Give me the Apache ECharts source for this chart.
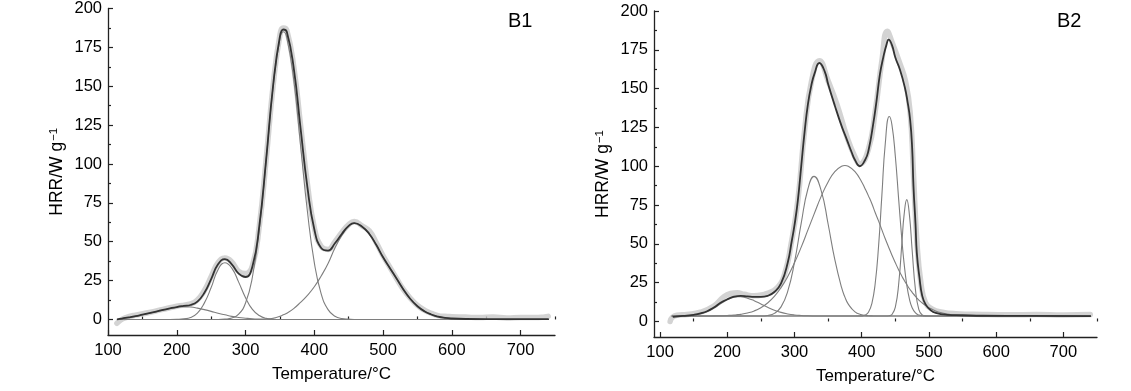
<!DOCTYPE html>
<html>
<head>
<meta charset="utf-8">
<script src="https://cdn.jsdelivr.net/npm/echarts@6/dist/echarts.min.js"></script>
<style>
html,body{margin:0;padding:0;background:#fff;}
#c{width:1131px;height:391px;}
</style>
</head>
<body>
<div id="c"></div>
<script>
// ---------- B1 data ----------
const b1CompT = [114,120,130,140,150,160,170,180,190,200,210,220,230,240,250,260,270,280,290,300,310,320,330,340,350,355,360,370,380,390,400,410,420,430,440,450,458,470,480,490,500,510,520,530,540,550,560,570,580,590,600,620,650,700,740];
const b1C1 = [0.2,0.5,1.2,2,3,4,5,6,7,7.8,8.2,8,7.3,6.3,5.2,4,3,2,1.3,0.8,0.4,0.2,0.1,0,0,0,0,0,0,0,0,0,0,0,0,0,0,0,0,0,0,0,0,0,0,0,0,0,0,0,0,0,0,0,0];
const b1C2 = [0,0,0,0,0,0,0,0,0,0.1,0.4,1.2,4,10.5,20.5,32,36.5,33,24,14,6.5,2.5,0.7,0.2,0,0,0,0,0,0,0,0,0,0,0,0,0,0,0,0,0,0,0,0,0,0,0,0,0,0,0,0,0,0,0];
const b1C3 = [0,0,0,0,0,0,0,0,0,0,0,0,0,0,0,0,0.2,0.9,3.4,10.6,27.3,58.1,102.5,149.5,180.7,185,181.3,154.5,112,69.4,36.6,16.5,6.3,2.1,0.6,0.2,0,0,0,0,0,0,0,0,0,0,0,0,0,0,0,0,0,0,0];
const b1C4 = [0,0,0,0,0,0,0,0,0,0,0,0,0,0,0,0,0,0,0,0,0,0,0.2,0.8,2,3,4,7,11,15.5,21,28,36,46,54,60,62,59.5,55,48,40,33,26,19,13,8.5,5.3,3.2,1.8,1,0.5,0.1,0,0,0];
const b1Total = [0.1,0.6,1.3,2.1,3.1,4.1,5.1,6.1,7.1,8,8.7,9.3,11.5,17,26,35.5,38.8,35.5,29.5,27.3,34,60,103,150,182,186.5,185,162,123,85,58,46,44.3,49,55,60.2,62,59.5,55,48,40,33,26,19,13,8.5,5.3,3.2,1.8,1,0.6,0.3,0.2,0.2,0.2];
const b1BandT = [113,118,125,140,160,180,200,220,230,240,250,260,270,280,290,300,310,320,330,340,350,355,360,370,380,390,400,410,420,430,440,450,458,470,480,490,500,510,520,530,540,550,560,570,580,590,600,620,640,660,680,700,720,735,740];
const b1Band = [-2.5,-0.5,1,2.8,4.5,6.5,8.5,10,12.5,18.5,27.5,36.5,39.5,37,31,29.5,34.5,60,103,150,183,187.5,186,163,125,87,59,47,45,50,56,61,63,60,57,49.5,41,33.5,26,19,13.5,9,6,4,2.5,2,1.8,1.5,1.2,1.5,1,1.3,1.2,1.6,2];

// ---------- B2 data ----------
const b2CompT = [118,130,140,150,160,170,180,190,200,210,216,220,230,240,250,260,270,280,290,300,310,320,329,340,350,360,370,375,380,390,400,405,410,415,420,425,430,435,441,445,450,455,460,463,467,471,475,480,485,490,495,500,510,520,530,540,550,570,600,650,740];
const b2Ca = [3.5,3.6,3.75,4.1,4.95,6.4,8.6,11.4,14,15.7,16,15.9,15,13.4,11.3,9.2,7.3,5.85,4.85,4.2,3.85,3.65,3.55,3.5,3.5,3.5,3.5,3.5,3.5,3.5,3.5,3.5,3.5,3.5,3.5,3.5,3.5,3.5,3.5,3.5,3.5,3.5,3.5,3.5,3.5,3.5,3.5,3.5,3.5,3.5,3.5,3.5,3.5,3.5,3.5,3.5,3.5,3.5,3.5,3.5,3.5];
const b2Cb = [3.5,3.5,3.5,3.5,3.5,3.5,3.5,3.5,3.5,3.5,3.5,3.5,3.5,3.5,3.5,3.9,5.2,9.4,19.5,38.2,63.3,85.5,93.5,83.8,62.8,39.8,21.9,15.7,11.2,6.2,4.3,3.9,3.7,3.6,3.5,3.5,3.5,3.5,3.5,3.5,3.5,3.5,3.5,3.5,3.5,3.5,3.5,3.5,3.5,3.5,3.5,3.5,3.5,3.5,3.5,3.5,3.5,3.5,3.5,3.5,3.5];
const b2Cc = [3.5,3.5,3.5,3.5,3.5,3.55,3.6,3.7,3.85,4.1,4.4,4.6,5.5,6.8,8.9,11.9,16.1,21.8,29,37.8,47.9,59,69,80.9,89.9,96.5,100,100.5,100,96.5,89.9,85.5,80.9,76,70.2,64.8,59,53.3,46.9,42.7,37.8,33.2,29,26.7,23.8,21.1,18.8,16.1,13.8,11.9,10.3,8.9,6.8,5.5,4.6,4.1,3.85,3.6,3.5,3.5,3.5];
const b2Cd = [3.5,3.5,3.5,3.5,3.5,3.5,3.5,3.5,3.5,3.5,3.5,3.5,3.5,3.5,3.5,3.5,3.5,3.5,3.5,3.5,3.5,3.5,3.5,3.5,3.5,3.5,3.5,3.5,3.5,3.5,3.6,4.1,5.9,11.4,24.3,48.1,81.4,114.3,132,126.5,106.4,78.5,51.3,37.6,23.6,14.4,8.9,5.5,4.1,3.7,3.55,3.5,3.5,3.5,3.5,3.5,3.5,3.5,3.5,3.5,3.5];
const b2Ce = [3.5,3.5,3.5,3.5,3.5,3.5,3.5,3.5,3.5,3.5,3.5,3.5,3.5,3.5,3.5,3.5,3.5,3.5,3.5,3.5,3.5,3.5,3.5,3.5,3.5,3.5,3.5,3.5,3.5,3.5,3.5,3.5,3.5,3.5,3.5,3.5,3.5,3.5,3.7,4.5,9.2,24.3,52,68.5,78.5,68.5,46,20.2,7.7,4.2,3.6,3.5,3.5,3.5,3.5,3.5,3.5,3.5,3.5,3.5,3.5];
const b2TotalT = [120,130,140,150,160,170,180,190,200,210,220,230,240,250,260,270,280,290,296,300,305,310,315,320,325,330,337,345,350,360,370,378,385,390,397,405,410,417,422,427,432,437,440,445,450,457,464,468,472,475,477,480,482,486,490,495,502,510,527,550,580,650,740];
const b2Total = [3,3.4,3.8,4.3,5.2,6.6,9,12,14.3,16,16.5,16.2,15.9,15.8,16.5,19,24.5,38,52,62,78,100,122,140,152,160,166.5,161,153,139,126,117,109,104,100,104,110,127,142,159,170,178.5,181.5,178,170,162,151,142,130,112,87,63,44,28,16.5,11,7.5,5.5,4.3,4,3.7,3.6,3.5];
const b2BandT = [115,118,125,140,160,180,195,205,215,225,240,255,265,275,285,295,305,315,325,337,350,363,378,390,397,410,420,430,438,445,457,465,472,477,482,488,495,505,520,540,580,620,660,700,740];
const b2Band = [0,2.5,4,4.5,6,10,16,18,18.5,17.5,16.5,17.5,19,22,30,50,78,123,154,168,155,140,119,106,101.5,111,135,168,187,180,166,155,135,95,52,25,12,8,6,5,4.5,4.3,4.5,4.2,4.5];

// tick labels
const xTicks = [100,200,300,400,500,600,700];
const xMinor = [150,250,350,450,550,650,750];
const yTicks = [0,25,50,75,100,125,150,175,200];
const yMinor = [12.5,37.5,62.5,87.5,112.5,137.5,162.5,187.5];

const zip = (xs, ys) => xs.map((x, i) => [x, ys[i]]);

const FONT = 'Liberation Sans, Arial, Helvetica, sans-serif';
const axisColor = '#222';

function xAxes(grid, min) {
  return [{
    gridIndex: grid, type: 'value', min: min, max: 750,
    name: 'Temperature/°C', nameLocation: 'middle', nameGap: 31,
    nameTextStyle: {fontSize: 17, color: '#000', fontFamily: FONT},
    axisLine: {show: true, onZero: false, lineStyle: {color: axisColor, width: 1.3}},
    axisTick: {show: true, inside: true, length: 5, customValues: xTicks, lineStyle: {color: axisColor, width: 1.2}},
    axisLabel: {show: true, customValues: xTicks, fontSize: 16.5, color: '#000', fontFamily: FONT, margin: 7},
    splitLine: {show: false}
  }, {
    gridIndex: grid, type: 'value', min: min, max: 750, position: 'bottom',
    axisLine: {show: false},
    axisTick: {show: true, inside: true, length: 3, customValues: xMinor, lineStyle: {color: axisColor, width: 1.2}},
    axisLabel: {show: false},
    splitLine: {show: false}
  }];
}
function yAxes(grid) {
  return [{
    gridIndex: grid, type: 'value', min: -10, max: 200,
    name: 'HRR/W g{s|−1}', nameLocation: 'middle', nameGap: 42, nameRotate: 90,
    nameTextStyle: {fontSize: 17.5, color: '#000', fontFamily: FONT,
      rich: {s: {fontSize: 11.5, color: '#000', fontFamily: FONT, verticalAlign: 'top', padding: [0,0,0,1]}}},
    axisLine: {show: true, onZero: false, lineStyle: {color: axisColor, width: 1.3}},
    axisTick: {show: true, inside: true, length: 5, customValues: yTicks, lineStyle: {color: axisColor, width: 1.2}},
    axisLabel: {show: true, customValues: yTicks, fontSize: 16.5, color: '#000', fontFamily: FONT, margin: 6},
    splitLine: {show: false}
  }, {
    gridIndex: grid, type: 'value', min: -10, max: 200, position: 'left',
    axisLine: {show: false},
    axisTick: {show: true, inside: true, length: 3, customValues: yMinor, lineStyle: {color: axisColor, width: 1.2}},
    axisLabel: {show: false},
    splitLine: {show: false}
  }];
}

function line(xi, yi, data, color, width, z) {
  return {type: 'line', xAxisIndex: xi, yAxisIndex: yi, data: data, showSymbol: false,
    smooth: 0.5, silent: true, animation: false, z: z,
    lineStyle: {color: color, width: width, cap: 'round', join: 'round'}};
}

const bandColor = 'rgba(200,200,200,0.8)';
const compColor = '#7e7e7e';
const totColor = '#333';

const series = [
  line(0, 0, zip(b1BandT, b1Band), bandColor, 5.5, 1),
  line(0, 0, zip(b1CompT, b1C1), compColor, 1.1, 2),
  line(0, 0, zip(b1CompT, b1C2), compColor, 1.1, 2),
  line(0, 0, zip(b1CompT, b1C3), compColor, 1.1, 2),
  line(0, 0, zip(b1CompT, b1C4), compColor, 1.1, 2),
  line(0, 0, zip(b1CompT, b1Total), totColor, 1.8, 3),
  line(2, 2, zip(b2BandT, b2Band), bandColor, 5.5, 1),
  line(2, 2, zip(b2CompT, b2Ca), compColor, 1.1, 2),
  line(2, 2, zip(b2CompT, b2Cb), compColor, 1.1, 2),
  line(2, 2, zip(b2CompT, b2Cc), compColor, 1.1, 2),
  line(2, 2, zip(b2CompT, b2Cd), compColor, 1.1, 2),
  line(2, 2, zip(b2CompT, b2Ce), compColor, 1.1, 2),
  line(2, 2, zip(b2TotalT, b2Total), totColor, 1.8, 3)
];

const chart = echarts.init(document.getElementById('c'), null, {renderer: 'canvas'});
chart.setOption({
  backgroundColor: '#fff',
  animation: false,
  grid: [
    {left: 108, top: 7, width: 447, height: 328, containLabel: false},
    {left: 654, top: 11, width: 443, height: 326, containLabel: false}
  ],
  xAxis: [...xAxes(0, 100), ...xAxes(1, 91)],
  yAxis: [...yAxes(0), ...yAxes(1)],
  series: series,
  graphic: [
    {type: 'text', left: 508, top: 11, style: {text: 'B1', fontSize: 20, fill: '#000', fontFamily: FONT}},
    {type: 'text', left: 1057, top: 11, style: {text: 'B2', fontSize: 20, fill: '#000', fontFamily: FONT}}
  ]
});
</script>
</body>
</html>
